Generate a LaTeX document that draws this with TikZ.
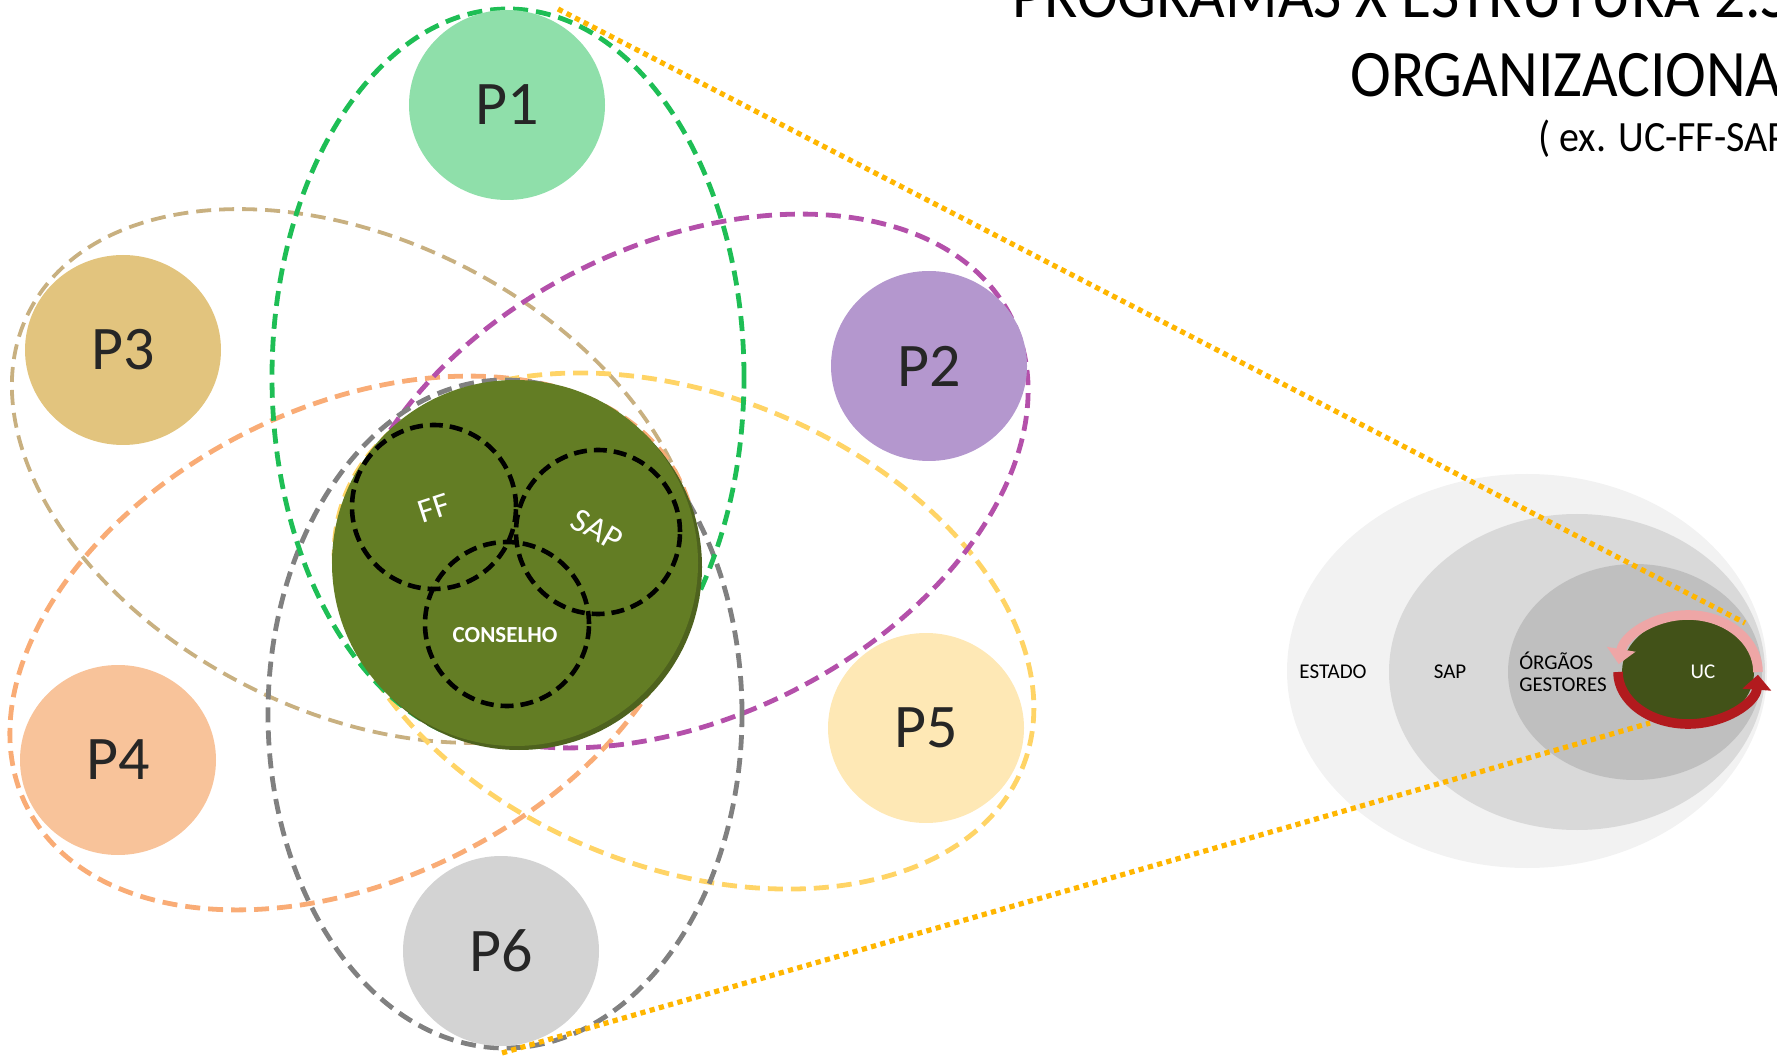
\documentclass[tikz,border=0pt]{standalone}
\usepackage{fontspec}
\setmainfont{Carlito}
\usetikzlibrary{shapes.geometric,arrows.meta}

\definecolor{cPone}{RGB}{143,223,170}
\definecolor{cPtwo}{RGB}{180,151,206}
\definecolor{cPthree}{RGB}{226,196,126}
\definecolor{cPfour}{RGB}{248,195,154}
\definecolor{cPfive}{RGB}{254,232,181}
\definecolor{cPsix}{RGB}{211,211,211}
\definecolor{dGreen}{RGB}{30,190,85}
\definecolor{dTan}{RGB}{200,176,128}
\definecolor{dMag}{RGB}{180,80,170}
\definecolor{dOra}{RGB}{249,172,118}
\definecolor{dYel}{RGB}{255,212,102}
\definecolor{dGray}{RGB}{128,128,128}
\definecolor{bigGreen}{RGB}{99,125,36}
\definecolor{bigShadow}{RGB}{78,98,30}
\definecolor{ucGreen}{RGB}{66,82,24}
\definecolor{dotOr}{RGB}{255,182,0}
\definecolor{txtGray}{RGB}{38,38,38}
\definecolor{gEst}{RGB}{242,242,242}
\definecolor{gSap}{RGB}{217,217,217}
\definecolor{gOrg}{RGB}{191,191,191}
\definecolor{arPink}{RGB}{238,166,166}
\definecolor{arRed}{RGB}{178,26,30}

\begin{document}
\begin{tikzpicture}[x=0.5pt,y=0.5pt,
  pnode/.style={ellipse, minimum width=98pt, minimum height=95pt, inner sep=0pt,
    text=txtGray, font=\fontsize{31}{31}\selectfont},
  dsh/.style={line width=2.4pt, dash pattern=on 7.5pt off 4pt},
  ringline/.style={draw=black, line width=2.3pt, dash pattern=on 6.5pt off 3.5pt},
  ringtxt/.style={text=white, inner sep=0pt, font=\fontsize{17}{17}\selectfont},
  dotline/.style={draw=dotOr, line width=2.6pt, dash pattern=on 2.6pt off 2.2pt},
  grayell/.style={ellipse, inner sep=0pt},
  lbl/.style={text=black, inner sep=0pt, font=\fontsize{10.5}{11}\selectfont},
  arrowband/.style={line width=4.8pt, -{Triangle[width=14pt,length=7.5pt]}},
  title/.style={anchor=base west, inner sep=0pt, text=black}
]
\useasboundingbox (0,0) rectangle (1777,1056);
\clip (0,0) rectangle (1777,1056);

% dashed program ellipses
\draw[dsh, dTan, line width=1.9pt, rotate around={-26.6:(355,580)}] (355,580) ellipse [x radius=365, y radius=236];
\draw[dsh, dOra, rotate around={26.6:(353,413)}] (353,413) ellipse [x radius=365, y radius=236];
\draw[dsh, dYel, rotate around={-22:(684,425)}] (684,425) ellipse [x radius=365, y radius=236];
\draw[dsh, dMag, rotate around={26.6:(685,575)}] (685,575) ellipse [x radius=365, y radius=236];
\draw[dsh, dGray] (505,342) ellipse [x radius=237, y radius=334];
\draw[dsh, dGreen] (508,679) ellipse [x radius=236, y radius=368];

% central circle
\fill[bigShadow] (519,489) circle [radius=183];
\node[circle, fill=bigGreen, minimum size=183pt, inner sep=0pt] (core) at (515,493) {};

% inner dashed circles
\coordinate (ffc) at (434,549);
\coordinate (sapc) at (598,524);
\coordinate (consc) at (507,432);
\draw[ringline] (ffc) circle [radius=82];
\draw[ringline] (sapc) circle [radius=82];
\draw[ringline] (consc) circle [radius=82];
\node[ringtxt, rotate=18] (fft) at (434,548) {FF};
\node[ringtxt, rotate=-30] (sapt) at (597,526) {SAP};
\node[ringtxt, font=\fontsize{11.5}{12}\selectfont\bfseries] (const) at (505,421) {CONSELHO};

% program circles
\node[pnode, fill=cPone] (p1) at (507,951) {P1};
\node[pnode, fill=cPtwo] (p2) at (929,690) {P2};
\node[pnode, fill=cPthree] (p3) at (123,706) {P3};
\node[pnode, fill=cPfour] (p4) at (118,296) {P4};
\node[pnode, fill=cPfive] (p5) at (926,328) {P5};
\node[pnode, fill=cPsix] (p6) at (501,105) {P6};

% right side nested ellipses
\node[grayell, fill=gEst, minimum width=240pt, minimum height=197pt] (estado) at (1527,385) {};
\node[grayell, fill=gSap, minimum width=188pt, minimum height=158pt] (sapE) at (1577,384) {};
\node[grayell, fill=gOrg, minimum width=127pt, minimum height=108pt] (org) at (1635,384) {};
\node[lbl] (tEst) at (1333,384) {ESTADO};
\node[lbl] (tSap) at (1450,384) {SAP};
\node[lbl, align=left] (tOrg) at (1563,384) {ÓRGÃOS\\GESTORES};

% dotted zoom lines
\coordinate (d1a) at (558,1047);
\coordinate (d1b) at (1745,433);
\coordinate (d2a) at (502,3);
\coordinate (d2b) at (1650,333);
\draw[dotline] (d1a) -- (d1b);
\draw[dotline] (d2a) -- (d2b);

% UC
\node[grayell, fill=ucGreen, minimum width=66pt, minimum height=54pt] (uc) at (1688,384) {};
\node[lbl, text=white] (tUC) at (1703,384) {UC};
\draw[arrowband, arPink] (1758,384) arc[start angle=0, end angle=172, x radius=70, y radius=57];
\draw[arrowband, arRed] (1618,384) arc[start angle=180, end angle=357, x radius=70, y radius=52];

% title
\node[title, font=\fontsize{30.75}{31}\selectfont] (t1) at (1012,1038) {\scalebox{1}[1.08]{PROGRAMAS X ESTRUTURA 2.S}};
\node[title, font=\fontsize{30.75}{31}\selectfont] (t2) at (1350,959) {\scalebox{1}[1.08]{ORGANIZACIONA}};
\node[title, font=\fontsize{20}{20}\selectfont] (t3) at (1538,904) {\scalebox{1}[1.08]{( ex. UC-FF-SAP}};
\end{tikzpicture}
\end{document}
